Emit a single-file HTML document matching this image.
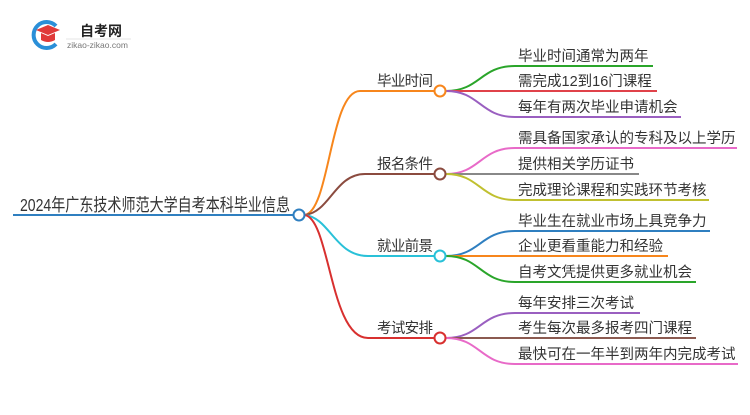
<!DOCTYPE html>
<html><head><meta charset="utf-8"><style>
body{margin:0;background:#fff;}
svg text{font-family:"Liberation Sans","Noto Sans CJK SC",sans-serif;fill:#333;}
</style></head><body>
<svg width="750" height="410" viewBox="0 0 750 410" xmlns="http://www.w3.org/2000/svg">
<!-- logo -->
<path d="M56 26 A13 13 0 1 0 56 44" fill="none" stroke="#2a8fd8" stroke-width="4"/>
<path d="M36 30 L48 25 L60 30 L48 35 Z" fill="#e03a3a"/>
<path d="M41 33 L41 40 Q48 44 55 40 L55 33 L48 36 Z" fill="#e03a3a"/>
<text x="80" y="36" font-size="14" font-weight="bold" style="fill:#222">自考网</text>
<line x1="66" y1="39" x2="131" y2="39" stroke="#ddd" stroke-width="0.8"/>
<text x="67" y="48" font-size="8.5" style="fill:#777">zikao-zikao.com</text>
<g fill="none" stroke-width="2">
<!-- root -->
<line x1="13" y1="215" x2="293" y2="215" stroke="#2f7fc0"/>
<path d="M305 215 C330 210 330 91 360 91 L434 91" stroke="#f7861c"/>
<path d="M305 215 C330 212 335 174 365 174 L434 174" stroke="#8b4b3f"/>
<path d="M305 215 C330 218 335 256 368 256 L434 256" stroke="#29c1d8"/>
<path d="M305 215 C330 220 330 338 368 338 L434 338" stroke="#d8302f"/>
<!-- leaves -->
<path d="M446 91 C480 91 480 66 515 66 L653 66" stroke="#2aa52a"/>
<path d="M446 91 L657 91" stroke="#e0424a"/>
<path d="M446 91 C480 91 480 117 515 117 L681 117" stroke="#9a5fc0"/>
<path d="M446 174 C480 174 480 148 515 148 L737 148" stroke="#e86ac8"/>
<path d="M446 174 L639 174" stroke="#888"/>
<path d="M446 174 C480 174 480 200 515 200 L709 200" stroke="#c0c030"/>
<path d="M446 256 C480 256 480 231 515 231 L710 231" stroke="#2f7fc0"/>
<path d="M446 256 L668 256" stroke="#f7861c"/>
<path d="M446 256 C480 256 480 282 515 282 L696 282" stroke="#2aa52a"/>
<path d="M446 338 C480 338 480 313 515 313 L640 313" stroke="#9a5fc0"/>
<path d="M446 338 L696 338" stroke="#8b5a50"/>
<path d="M446 338 C480 338 480 364 515 364 L738 364" stroke="#e86ac8"/>
<circle cx="299" cy="215" r="5.5" fill="#fff" stroke="#2f7fc0"/>
<circle cx="440" cy="91" r="5.5" fill="#fff" stroke="#f7861c"/>
<circle cx="440" cy="174" r="5.5" fill="#fff" stroke="#8b4b3f"/>
<circle cx="440" cy="256" r="5.5" fill="#fff" stroke="#29c1d8"/>
<circle cx="440" cy="338" r="5.5" fill="#fff" stroke="#d8302f"/>
</g>
<text x="20" y="211" font-size="17.5" textLength="270" lengthAdjust="spacingAndGlyphs">2024年广东技术师范大学自考本科毕业信息</text>
<g font-size="14.5">
<text x="377" y="86" textLength="56">毕业时间</text>
<text x="377" y="169" textLength="56">报名条件</text>
<text x="377" y="251" textLength="56">就业前景</text>
<text x="377" y="333" textLength="56">考试安排</text>
<text x="518" y="61">毕业时间通常为两年</text>
<text x="518" y="86">需完成12到16门课程</text>
<text x="518" y="112">每年有两次毕业申请机会</text>
<text x="518" y="143">需具备国家承认的专科及以上学历</text>
<text x="518" y="169">提供相关学历证书</text>
<text x="518" y="195">完成理论课程和实践环节考核</text>
<text x="518" y="226">毕业生在就业市场上具竞争力</text>
<text x="518" y="251">企业更看重能力和经验</text>
<text x="518" y="277">自考文凭提供更多就业机会</text>
<text x="518" y="308">每年安排三次考试</text>
<text x="518" y="333">考生每次最多报考四门课程</text>
<text x="518" y="359">最快可在一年半到两年内完成考试</text>
</g>
</svg>
</body></html>
